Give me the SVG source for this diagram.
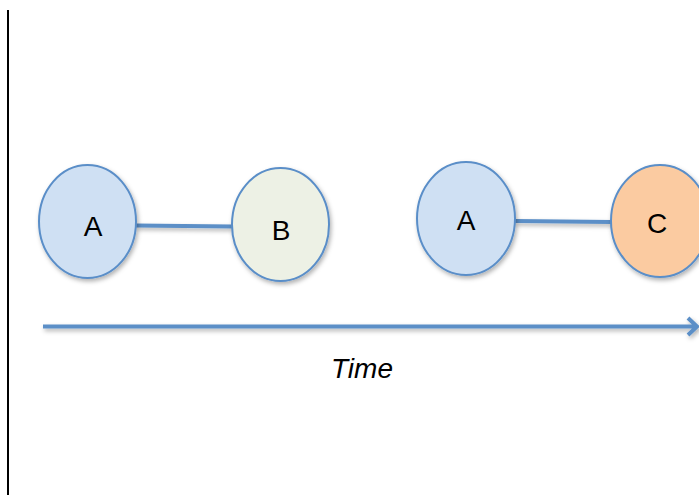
<svg xmlns="http://www.w3.org/2000/svg" width="699" height="495" viewBox="0 0 699 495">
<defs>
<filter id="sh" filterUnits="userSpaceOnUse" x="0" y="0" width="699" height="495">
<feDropShadow dx="1.5" dy="2.5" stdDeviation="2" flood-color="#000" flood-opacity="0.3"/>
</filter>
<style>
.n{stroke:#5a8ec8;stroke-width:2;filter:url(#sh)}
.t{font-family:"Liberation Sans",Arial,sans-serif;font-size:28px;fill:#000;text-anchor:middle}
.e{stroke:#5b8fc7;stroke-width:4;fill:none;filter:url(#sh)}
</style>
</defs>
<rect width="699" height="495" fill="#fff"/>
<line x1="8" y1="10" x2="8" y2="495" stroke="#000" stroke-width="2"/>
<g id="connectors">
<line class="e" x1="136" y1="225.5" x2="232" y2="226.5"/>
<line class="e" x1="515" y1="221" x2="611" y2="222"/>
<path class="e" d="M43 326.5H697M688 318l9 8.5l-9 8.5"/>
</g>
<g id="nodeA1"><ellipse class="n" cx="87.5" cy="221.5" rx="48.5" ry="56.5" fill="#cfe0f3"/><text class="t" x="93" y="236">A</text></g>
<g id="nodeB"><ellipse class="n" cx="280.5" cy="224.5" rx="48.5" ry="56.5" fill="#edf1e5"/><text class="t" x="281" y="239.5">B</text></g>
<g id="nodeA2"><ellipse class="n" cx="466" cy="218.5" rx="49" ry="56.5" fill="#cfe0f3"/><text class="t" x="466" y="230">A</text></g>
<g id="nodeC"><ellipse class="n" cx="660" cy="221" rx="49" ry="56" fill="#fbcba1"/><text class="t" x="657" y="233">C</text></g>
<text x="362" y="378" font-family="Liberation Sans,Arial,sans-serif" font-style="italic" font-size="28" text-anchor="middle">Time</text>
</svg>
